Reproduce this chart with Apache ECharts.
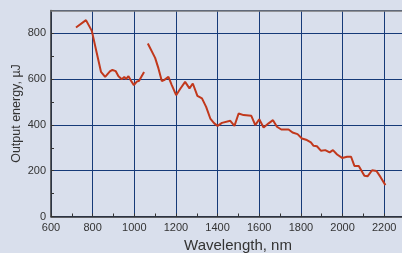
<!DOCTYPE html>
<html>
<head>
<meta charset="utf-8">
<script src="https://cdn.jsdelivr.net/npm/echarts@6/dist/echarts.min.js"></script>
<style>
html,body{margin:0;padding:0;background:#d9dfec;}
#chart{width:402px;height:253px;}
</style>
</head>
<body>
<div id="chart"></div>
<script>
// Segment 1 (short wavelength branch)
const wl1 = [720, 768, 796, 820, 840, 860, 884, 895, 911, 924, 940, 952, 960, 972, 985, 998, 1012, 1023, 1047];
const en1 = [826, 858, 811, 713, 632, 610, 635, 640, 635, 613, 600, 610, 600, 613, 592, 574, 589, 593, 631];
// Segment 2 (long wavelength branch)
const wl2 = [1065, 1100, 1116, 1132, 1143, 1164, 1180, 1201, 1220, 1244, 1265, 1281, 1303, 1325, 1345, 1365, 1384, 1400, 1421, 1461, 1481, 1501, 1525, 1562, 1581, 1600, 1621, 1645, 1666, 1685, 1706, 1741, 1760, 1784, 1805, 1829, 1848, 1861, 1877, 1897, 1917, 1938, 1954, 1974, 1998, 2022, 2041, 2057, 2078, 2105, 2121, 2142, 2163, 2182, 2206];
const en2 = [756, 693, 647, 592, 596, 610, 574, 530, 557, 588, 560, 581, 527, 516, 479, 428, 407, 396, 409, 418, 396, 450, 443, 440, 399, 425, 389, 407, 421, 392, 380, 380, 367, 360, 341, 334, 324, 309, 307, 287, 290, 280, 290, 271, 256, 261, 261, 221, 221, 178, 176, 202, 199, 173, 137];
const xTicks = [600, 800, 1000, 1200, 1400, 1600, 1800, 2000, 2200];
const yTicks = [0, 200, 400, 600, 800];

const data = [];
wl1.forEach((x, i) => data.push([x, en1[i]]));
data.push([ (wl1[wl1.length-1] + wl2[0]) / 2, null ]);
wl2.forEach((x, i) => data.push([x, en2[i]]));

const chart = echarts.init(document.getElementById('chart'));
const font = 'Liberation Sans, Arial, sans-serif';
chart.setOption({
  backgroundColor: '#d9dfec',
  animation: false,
  grid: { left: 51, right: -3, top: 10.5, bottom: 36.5, containLabel: false, outerBoundsMode: 'none' },
  xAxis: [{
    type: 'value', min: 600, max: 2300, interval: 200,
    name: 'Wavelength, nm', nameLocation: 'middle', nameGap: 22,
    nameTextStyle: { fontFamily: font, fontSize: 15, color: '#333', padding: [0, 0, 0, 20] },
    axisLine: { show: true, lineStyle: { color: '#333', width: 1.5 } },
    axisTick: { show: true, inside: true, length: 3, lineStyle: { color: '#333' } },
    minorTick: { show: true, splitNumber: 2, length: 3, lineStyle: { color: '#333' } },
    axisLabel: { fontFamily: font, fontSize: 11, color: '#333', margin: 6,
      formatter: v => xTicks.includes(v) ? String(v) : '' },
    splitLine: { show: true, lineStyle: { color: '#163a78', width: 1 } }
  }, {
    type: 'value', min: 600, max: 2300, position: 'top', z: 5,
    axisLine: { show: true, lineStyle: { color: '#7a7a7a', width: 1.5 } },
    axisTick: { show: false }, axisLabel: { show: false }, splitLine: { show: false }
  }],
  yAxis: {
    type: 'value', min: 0, max: 900, interval: 200,
    name: 'Output energy, µJ', nameLocation: 'middle', nameGap: 28, nameMoveOverlap: false,
    nameTextStyle: { fontFamily: font, fontSize: 12.5, color: '#333' },
    axisLine: { show: true, lineStyle: { color: '#333', width: 1.5 } },
    axisTick: { show: true, inside: true, length: 3, lineStyle: { color: '#333' } },
    minorTick: { show: true, splitNumber: 2, length: 3, lineStyle: { color: '#333' } },
    axisLabel: { fontFamily: font, fontSize: 11, color: '#333', margin: 5,
      formatter: v => yTicks.includes(v) ? String(v) : '' },
    splitLine: { show: true, lineStyle: { color: '#163a78', width: 1 } }
  },
  series: [{
    type: 'line', data: data, xAxisIndex: 0, connectNulls: false,
    showSymbol: false, symbol: 'none',
    lineStyle: { color: '#c1381c', width: 2 }
  }]
});
</script>
</body>
</html>
